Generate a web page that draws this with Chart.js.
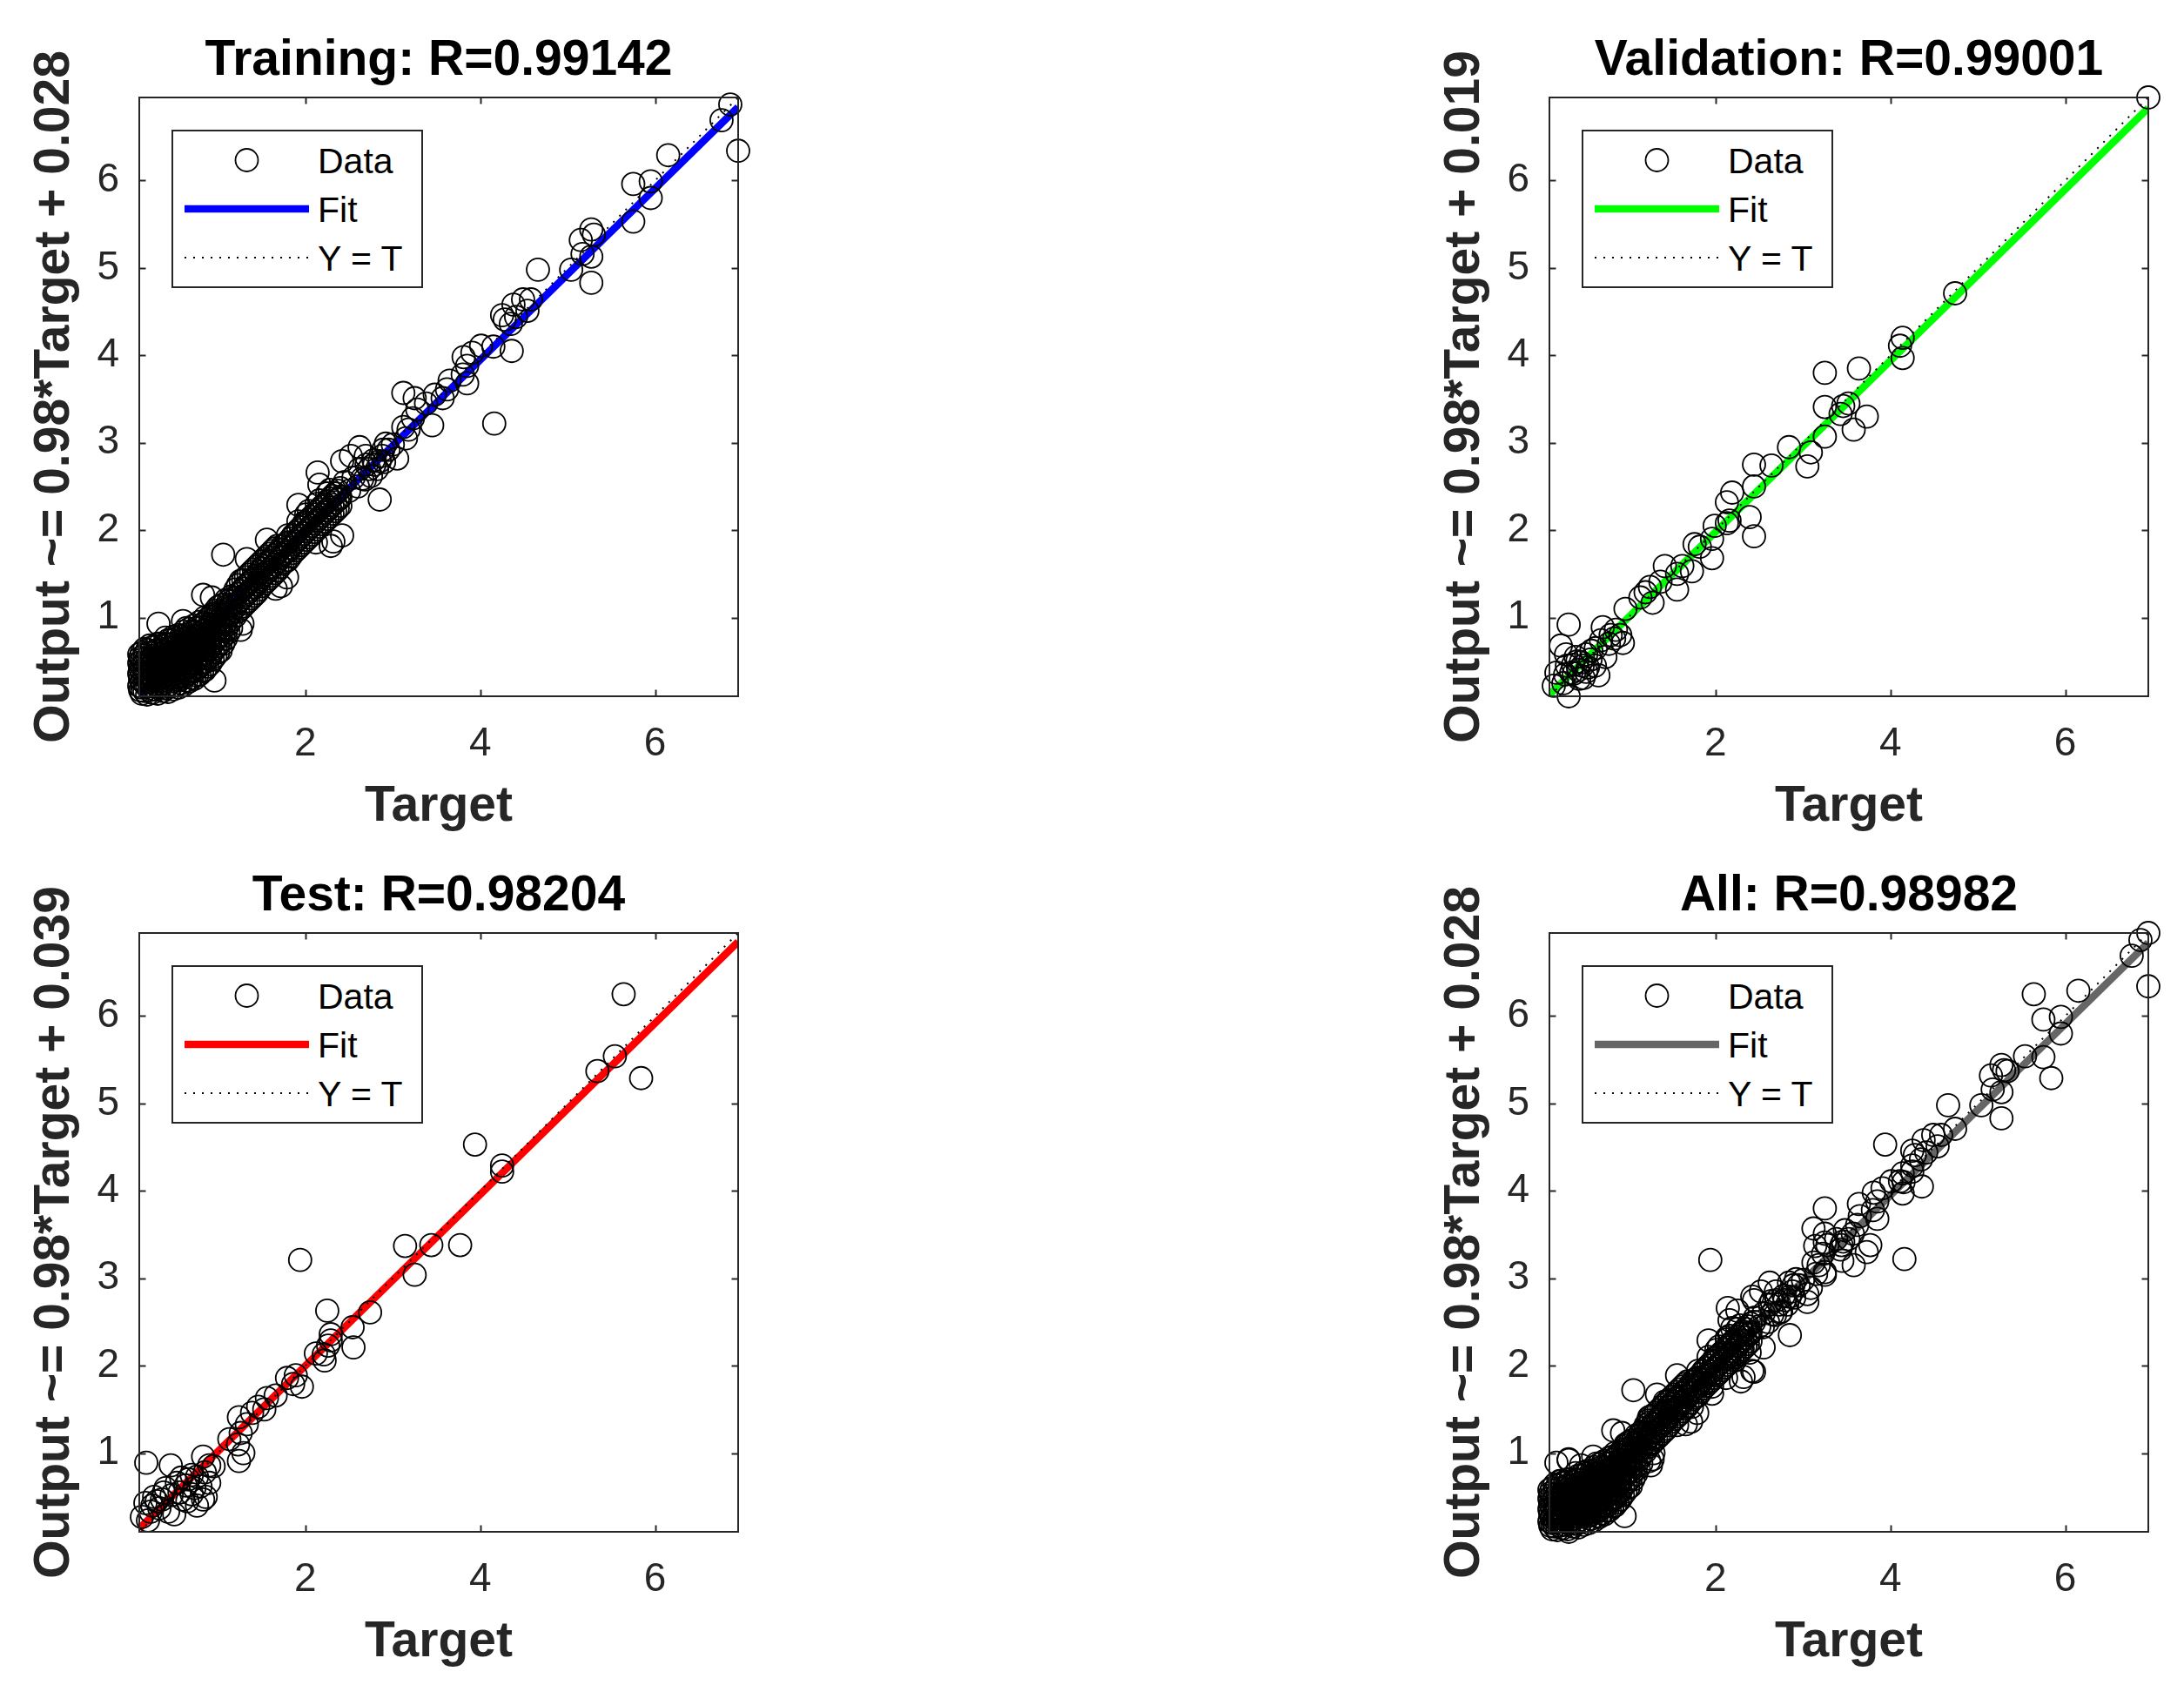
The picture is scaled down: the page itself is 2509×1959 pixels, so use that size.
<!DOCTYPE html>
<html>
<head>
<meta charset="utf-8">
<script src="https://cdn.jsdelivr.net/npm/chart.js@4.4.1/dist/chart.umd.min.js"></script>
<style>
html, body { margin: 0; padding: 0; background: #ffffff; width: 2509px; height: 1959px; overflow: hidden; position: relative; }
.panel { position: absolute; width: 1000px; height: 980px; }
.panel canvas { position: absolute; left: 0; top: 0; }
.mlegend { position: absolute; box-sizing: border-box; border: 2px solid #262626; background: #ffffff;
  font-family: 'Liberation Sans', Arial, Helvetica, sans-serif; color: #000000; }
.mlegend .sym { position: absolute; }
.mlegend .txt { position: absolute; font-size: 41px; height: 56px; line-height: 56px; white-space: nowrap; }
</style>
</head>
<body>
<script>
const FONT = "'Liberation Sans', Arial, Helvetica, sans-serif";

// ---- axis / text data ----
const axisMin = 0.1;
const axisMax = 6.95;
const xTickValues = [2, 4, 6];
const yTickValues = [1, 2, 3, 4, 5, 6];
const panelTitles = ['Training: R=0.99142', 'Validation: R=0.99001', 'Test: R=0.98204', 'All: R=0.98982'];
const fitSlopes = [0.98, 0.98, 0.98, 0.98];
const fitIntercepts = ['0.028', '0.019', '0.039', '0.028'];
const fitColors = ['#0000ff', '#00ff00', '#ff0000', '#666666'];
const legendLabels = ['Data', 'Fit', 'Y = T'];
const xAxisLabel = 'Target';

// ---- Training set (targets / outputs) ----
const trainTarget = [
 0.10,0.10,0.10,0.10,
 0.13,0.13,0.13,0.13,0.13,0.13,0.13,
 0.19,0.19,0.19,0.19,0.19,0.19,0.19,
 0.25,0.25,0.25,0.25,0.25,0.25,0.25,
 0.31,0.31,0.31,0.31,0.31,0.31,0.31,0.31,
 0.37,0.37,0.37,0.37,0.37,0.37,0.37,
 0.43,0.43,0.43,0.43,0.43,0.43,0.43,0.43,
 0.49,0.49,0.49,0.49,0.49,0.49,0.49,0.49,
 0.55,0.55,0.55,0.55,0.55,0.55,0.55,0.55,
 0.61,0.61,0.61,0.61,0.61,0.61,0.61,0.61,
 0.67,0.67,0.67,0.67,0.67,0.67,0.67,0.67,
 0.73,0.73,0.73,0.73,0.73,0.73,0.73,0.73,
 0.79,0.79,0.79,0.79,0.79,0.79,0.79,0.79,
 0.85,0.85,0.85,0.85,0.85,0.85,0.85,0.85,
 0.91,0.91,0.91,0.91,0.91,0.91,0.91,
 0.97,0.97,0.97,0.97,0.97,0.97,0.97,
 1.03,1.03,1.03,1.03,1.03,1.03,1.03,
 1.09,1.09,1.09,1.09,1.09,1.09,
 1.15,1.15,1.15,1.15,1.15,
 0.16,0.16,0.16,0.16,0.16,0.16,0.16,
 0.22,0.22,0.22,0.22,0.22,0.22,0.22,
 0.28,0.28,0.28,0.28,0.28,0.28,0.28,
 0.34,0.34,0.34,0.34,0.34,0.34,0.34,
 0.40,0.40,0.40,0.40,0.40,0.40,0.40,0.40,
 0.46,0.46,0.46,0.46,0.46,0.46,0.46,
 0.52,0.52,0.52,0.52,0.52,0.52,0.52,
 0.58,0.58,0.58,0.58,0.58,0.58,0.58,
 0.64,0.64,0.64,0.64,0.64,0.64,0.64,0.64,
 0.70,0.70,0.70,0.70,0.70,0.70,0.70,
 0.76,0.76,0.76,0.76,0.76,0.76,0.76,
 0.82,0.82,0.82,0.82,0.82,0.82,0.82,
 0.88,0.88,0.88,0.88,0.88,0.88,0.88,
 0.94,0.94,0.94,0.94,0.94,0.94,0.94,
 1.00,1.00,1.00,1.00,1.00,1.00,1.00,
 1.06,1.06,1.06,1.06,1.06,1.06,
 1.12,1.12,1.12,1.12,1.12,
 0.11,0.11,0.11,0.11,
 0.32,0.60,0.83,0.93,1.06,1.26,1.28,0.96,
 1.20,1.20,1.20,1.20, 1.26,1.26,1.26,1.26, 1.32,1.32,1.32,1.32, 1.38,1.38,1.38,1.38,
 1.44,1.44,1.44,1.44, 1.50,1.50,1.50,1.50, 1.56,1.56,1.56,1.56, 1.62,1.62,1.62,1.62,
 1.68,1.68,1.68,1.68, 1.74,1.74,1.74, 1.80,1.80,1.80,1.80, 1.86,1.86,1.86,
 1.92,1.92,1.92,1.92, 1.98,1.98,1.98, 2.04,2.04,2.04,2.04, 2.10,2.10,2.10,
 2.16,2.16,2.16,2.16, 2.22,2.22,2.22, 2.28,2.28,2.28,2.28, 2.34,2.34,2.34, 2.40,2.40,2.40,
 1.23,1.23,1.23,1.23, 1.29,1.29,1.29,1.29, 1.35,1.35,1.35,1.35, 1.41,1.41,1.41,1.41,
 1.47,1.47,1.47,1.47, 1.53,1.53,1.53,1.53, 1.59,1.59,1.59,1.59, 1.65,1.65,1.65,1.65,
 1.71,1.71,1.71, 1.77,1.77,1.77, 1.83,1.83,1.83, 1.89,1.89,1.89, 1.95,1.95,1.95,
 2.01,2.01,2.01,2.01, 2.07,2.07,2.07, 2.13,2.13,2.13,2.13, 2.19,2.19,2.19,
 2.25,2.25,2.25,2.25, 2.31,2.31,2.31, 2.37,2.37,2.37,
 1.56,1.33,1.92,2.32,2.42,2.29,1.72,1.66,1.79,2.12,1.99,2.14,2.16,
 2.45,2.50,2.55,2.60,2.62,2.68,2.70,2.75,2.78,2.82,2.88,2.90,2.95,3.00,
 2.62,2.52,2.42,2.69,2.79,2.85,2.65,2.39,2.73,
 2.92,2.89,2.85,3.05,3.15,3.12,3.18,3.23,3.28,3.45,3.38,3.25,3.12,3.48,3.57,3.62,3.65,3.85,3.80,3.85,3.81,3.91,4.01,4.15,4.16,4.36,4.35,4.41,4.28,4.25,4.38,4.49,4.54,
 4.58,4.66,5.04,5.15,5.27,5.30,5.17,5.27,5.27,5.75,5.75,5.95,5.95,6.15,6.76,6.86,6.95
];
const trainOutput = [
 0.36,0.22,0.48,0.58,
 0.13,0.20,0.28,0.36,0.44,0.52,0.60,
 0.12,0.21,0.29,0.37,0.45,0.54,0.63,
 0.14,0.22,0.31,0.39,0.47,0.56,0.66,
 0.13,0.21,0.30,0.38,0.46,0.55,0.63,0.70,
 0.16,0.24,0.33,0.41,0.50,0.58,0.67,
 0.15,0.23,0.31,0.40,0.48,0.57,0.65,0.74,
 0.18,0.27,0.35,0.44,0.52,0.61,0.70,0.78,
 0.20,0.29,0.37,0.46,0.55,0.63,0.72,0.80,
 0.23,0.32,0.41,0.49,0.58,0.66,0.75,0.84,
 0.27,0.36,0.44,0.53,0.61,0.70,0.78,0.87,
 0.30,0.39,0.48,0.57,0.65,0.74,0.83,0.91,
 0.35,0.44,0.53,0.62,0.70,0.79,0.88,0.95,
 0.40,0.49,0.58,0.67,0.76,0.85,0.94,1.00,
 0.47,0.56,0.65,0.74,0.83,0.92,1.01,
 0.56,0.65,0.74,0.83,0.92,1.02,1.08,
 0.62,0.71,0.80,0.89,0.98,1.07,1.14,
 0.76,0.85,0.94,1.03,1.12,1.20,
 0.88,0.97,1.06,1.15,1.24,
 0.16,0.25,0.33,0.41,0.49,0.57,0.64,
 0.17,0.26,0.34,0.42,0.51,0.60,0.68,
 0.18,0.27,0.35,0.43,0.51,0.60,0.67,
 0.20,0.29,0.37,0.46,0.54,0.62,0.70,
 0.19,0.28,0.36,0.45,0.53,0.62,0.70,0.77,
 0.21,0.30,0.39,0.48,0.56,0.65,0.74,
 0.23,0.32,0.40,0.49,0.58,0.67,0.76,
 0.25,0.34,0.43,0.52,0.61,0.70,0.79,
 0.28,0.37,0.45,0.54,0.63,0.71,0.80,0.88,
 0.31,0.40,0.49,0.57,0.66,0.75,0.84,
 0.34,0.43,0.52,0.61,0.70,0.79,0.88,
 0.39,0.48,0.57,0.66,0.75,0.84,0.92,
 0.44,0.53,0.62,0.71,0.80,0.89,0.98,
 0.52,0.61,0.70,0.79,0.88,0.97,1.04,
 0.60,0.68,0.77,0.86,0.95,1.04,1.12,
 0.70,0.79,0.88,0.97,1.06,1.15,
 0.83,0.92,1.01,1.10,1.19,
 0.17,0.30,0.42,0.54,
 0.93,0.96,1.26,1.23,1.72,0.86,0.93,0.28,
 1.02,1.12,1.22,1.32, 1.10,1.20,1.30,1.42, 1.16,1.26,1.36,1.46, 1.22,1.32,1.42,1.52,
 1.28,1.38,1.48,1.58, 1.36,1.46,1.56,1.64, 1.42,1.52,1.62,1.70, 1.48,1.58,1.68,1.76,
 1.54,1.64,1.74,1.82, 1.62,1.72,1.82, 1.66,1.76,1.86,1.94, 1.74,1.84,1.94,
 1.80,1.90,2.00,2.10, 1.86,1.96,2.06, 1.92,2.02,2.12,2.22, 1.98,2.08,2.18,
 2.04,2.14,2.24,2.34, 2.10,2.20,2.30, 2.16,2.26,2.36,2.46, 2.22,2.32,2.42, 2.28,2.38,2.48,
 1.07,1.17,1.27,1.37, 1.13,1.23,1.33,1.43, 1.19,1.29,1.39,1.49, 1.25,1.35,1.45,1.55,
 1.32,1.42,1.52,1.61, 1.39,1.49,1.59,1.67, 1.45,1.55,1.65,1.73, 1.51,1.61,1.71,1.79,
 1.58,1.68,1.78, 1.64,1.74,1.84, 1.70,1.80,1.90, 1.77,1.87,1.97, 1.83,1.93,2.03,
 1.89,1.99,2.09,2.18, 1.95,2.05,2.15, 2.01,2.11,2.21,2.30, 2.07,2.17,2.27,
 2.13,2.23,2.33,2.42, 2.19,2.29,2.39, 2.25,2.35,2.45,
 1.89,1.67,2.29,1.87,1.94,1.82,1.36,1.33,1.46,1.86,2.09,2.66,2.52,
 2.55,2.45,2.60,2.50,2.70,2.58,2.75,2.62,2.80,2.70,2.85,2.78,2.92,2.98,
 2.95,2.85,2.79,2.85,2.75,2.35,2.59,2.36,2.70,
 2.99,2.92,2.79,2.82,3.05,3.18,3.15,3.28,3.38,3.20,3.45,3.51,3.57,3.55,3.51,3.61,3.71,3.68,3.78,3.88,3.98,4.03,4.11,4.10,3.22,4.05,4.36,4.44,4.41,4.46,4.58,4.64,4.51,
 4.64,4.98,4.98,5.32,5.44,5.38,5.16,5.13,4.83,5.53,5.96,5.99,5.80,6.29,6.69,6.87,6.34
];

// ---- Validation set ----
const valTarget = [
 6.95,4.74,4.14,4.11,4.14,3.25,3.64,3.25,3.46,3.52,3.43,3.73,3.58,3.25,2.84,3.09,3.05,2.64,2.44,2.44,
 2.19,2.13,2.39,2.44,2.13,2.16,1.99,1.96,1.76,1.82,1.96,1.73,1.56,1.62,1.42,1.56,1.37,1.25,1.20,1.28,
 1.14,0.97,0.91,0.94,0.86,0.71,0.69,0.63,0.66,0.32,0.23,0.29,0.46,0.40,0.52,0.18,0.15,0.32,0.26,0.35,
 0.43,0.37,0.54,0.49,0.57,0.74,
 0.30,0.42,0.48,0.38,0.58,0.62,0.28,0.44,0.52,0.80,0.78,0.84
];
const valOutput = [
 6.95,4.71,4.20,4.11,3.97,3.80,3.85,3.41,3.42,3.45,3.33,3.30,3.15,3.07,2.95,2.89,2.73,2.74,2.75,2.50,
 2.43,2.32,2.15,1.93,2.08,2.11,2.05,1.90,1.84,1.81,1.68,1.53,1.50,1.59,1.59,1.32,1.41,1.35,1.29,1.17,
 1.23,1.10,0.80,0.71,0.86,0.89,0.74,0.65,0.34,0.92,0.68,0.58,0.49,0.55,0.58,0.37,0.22,0.10,0.25,0.37,
 0.40,0.46,0.43,0.31,0.52,0.55,
 0.45,0.50,0.45,0.36,0.62,0.45,0.35,0.30,0.38,0.80,0.70,0.76
];

// ---- Test set ----
const testTarget = [
 0.18,1.94,3.14,3.44,3.25,3.77,2.25,2.74,2.54,2.29,2.55,2.26,2.21,2.12,2.29,2.22,1.89,1.96,1.86,1.79,
 1.66,1.56,1.53,1.46,1.39,1.24,1.33,1.26,1.13,1.23,1.24,1.29,0.83,0.90,0.76,0.66,0.90,0.76,0.83,0.46,
 0.53,0.40,0.27,0.17,0.20,0.33,0.50,0.60,0.70,0.36,0.13,0.43,0.63,0.73,0.86,
 0.23,0.30,0.38,0.56,0.65,0.80,0.70,0.47,0.25,0.58,0.85,0.95,
 5.64,5.54,5.34,5.84,3.94,4.25,4.25
];
const testOutput = [
 0.89,3.21,3.37,3.38,3.04,3.38,2.63,2.61,2.44,2.36,2.21,2.23,2.13,2.14,2.29,2.06,1.89,1.76,1.79,1.86,
 1.66,1.63,1.50,1.53,1.46,1.41,1.33,1.23,1.16,1.10,0.91,1.00,0.96,0.86,0.73,0.70,0.66,0.40,0.47,0.86,
 0.66,0.60,0.50,0.43,0.23,0.37,0.30,0.47,0.53,0.47,0.27,0.33,0.63,0.60,0.50,
 0.33,0.45,0.55,0.55,0.45,0.62,0.75,0.52,0.40,0.72,0.78,0.85,
 6.25,5.54,5.37,5.29,4.53,4.29,4.22
];

// All = union of the three subsets
const allTarget = trainTarget.concat(valTarget, testTarget);
const allOutput = trainOutput.concat(valOutput, testOutput);

const panelTargets = [trainTarget, valTarget, testTarget, allTarget];
const panelOutputs = [trainOutput, valOutput, testOutput, allOutput];
const panelPositions = [[0, 0], [1620, 0], [0, 960], [1620, 960]];

Chart.defaults.font.family = FONT;

const matlabAxes = {
  id: 'matlabAxes',
  afterDatasetsDraw(chart) {
    const ctx = chart.ctx, a = chart.chartArea, xs = chart.scales.x, ys = chart.scales.y;
    const L = 7.5;
    ctx.save();
    ctx.strokeStyle = '#262626';
    ctx.lineWidth = 2;
    ctx.beginPath();
    xs.ticks.forEach(t => {
      const p = Math.round(xs.getPixelForValue(t.value)) + 0.5;
      ctx.moveTo(p, a.bottom); ctx.lineTo(p, a.bottom - L);
      ctx.moveTo(p, a.top); ctx.lineTo(p, a.top + L);
    });
    ys.ticks.forEach(t => {
      const p = Math.round(ys.getPixelForValue(t.value)) + 0.5;
      ctx.moveTo(a.left, p); ctx.lineTo(a.left + L, p);
      ctx.moveTo(a.right, p); ctx.lineTo(a.right - L, p);
    });
    ctx.stroke();
    ctx.strokeRect(a.left, a.top, a.right - a.left, a.bottom - a.top);
    ctx.restore();
  }
};

function buildLegend(chart, panel) {
  const a = chart.chartArea;
  const box = document.createElement('div');
  box.className = 'mlegend';
  box.style.left = (a.left + 37) + 'px';
  box.style.top = (a.top + 37) + 'px';
  box.style.width = '289px';
  box.style.height = '182px';
  legendLabels.forEach((lab, i) => {
    const ds = chart.data.datasets.find(d => d.label === lab);
    const symCenter = 33 + i * 56;
    const txtCenter = 34 + i * 56;
    const sym = document.createElementNS('http://www.w3.org/2000/svg', 'svg');
    sym.setAttribute('class', 'sym');
    sym.setAttribute('width', '143');
    sym.setAttribute('height', '40');
    sym.style.left = '13px';
    sym.style.top = (symCenter - 20) + 'px';
    let inner;
    if (ds.showLine === false) {
      inner = '<circle cx="71.5" cy="20" r="' + ds.pointRadius + '" fill="none" stroke="' + ds.borderColor +
              '" stroke-width="' + ds.pointBorderWidth + '"/>';
    } else if (ds.borderDash && ds.borderDash.length) {
      inner = '<line x1="0" y1="20" x2="143" y2="20" stroke="' + ds.borderColor + '" stroke-width="' + ds.borderWidth +
              '" stroke-dasharray="' + ds.borderDash.join(' ') + '"/>';
    } else {
      inner = '<line x1="0" y1="20" x2="143" y2="20" stroke="' + ds.borderColor + '" stroke-width="' + ds.borderWidth + '"/>';
    }
    sym.innerHTML = inner;
    box.appendChild(sym);
    const txt = document.createElement('div');
    txt.className = 'txt';
    txt.textContent = ds.label;
    txt.style.left = '166px';
    txt.style.top = (txtCenter - 28) + 'px';
    box.appendChild(txt);
  });
  panel.appendChild(box);
}

function makePanel(i) {
  const panel = document.createElement('div');
  panel.className = 'panel';
  panel.style.left = panelPositions[i][0] + 'px';
  panel.style.top = panelPositions[i][1] + 'px';
  const canvas = document.createElement('canvas');
  canvas.width = 1000; canvas.height = 980;
  canvas.style.width = '1000px'; canvas.style.height = '980px';
  panel.appendChild(canvas);
  document.body.appendChild(panel);

  const T = panelTargets[i], Y = panelOutputs[i];
  const pts = T.map((t, k) => ({ x: t, y: Y[k] }));
  const m = fitSlopes[i], b = parseFloat(fitIntercepts[i]);
  const yLabel = 'Output ~= ' + m + '*Target + ' + fitIntercepts[i];

  const chart = new Chart(canvas.getContext('2d'), {
    type: 'scatter',
    data: {
      datasets: [
        { label: legendLabels[0], data: pts, showLine: false, pointStyle: 'circle',
          pointRadius: 13, pointHoverRadius: 13, pointBorderWidth: 1.8, borderWidth: 1.8,
          borderColor: '#000000', pointBorderColor: '#000000', backgroundColor: 'rgba(0,0,0,0)',
          pointBackgroundColor: 'rgba(0,0,0,0)', clip: false, order: 0 },
        { label: legendLabels[2], data: [{ x: axisMin, y: axisMin }, { x: axisMax, y: axisMax }],
          showLine: true, borderColor: '#000000', borderWidth: 2, borderDash: [2, 8],
          pointRadius: 0, pointHoverRadius: 0, order: 1 },
        { label: legendLabels[1], data: [{ x: axisMin, y: m * axisMin + b }, { x: axisMax, y: m * axisMax + b }],
          showLine: true, borderColor: fitColors[i], borderWidth: 8.5, borderCapStyle: 'butt',
          pointRadius: 0, pointHoverRadius: 0, order: 2 }
      ]
    },
    options: {
      responsive: false,
      animation: false,
      events: [],
      layout: { padding: { left: 0, right: 152, top: 0, bottom: 0 } },
      plugins: {
        legend: { display: false },
        tooltip: { enabled: false },
        title: { display: true, fullSize: false, text: panelTitles[i], color: '#000000',
                 font: { family: FONT, size: 57, weight: 'bold', lineHeight: 1.2 },
                 padding: { top: 35.8, bottom: 7.8 } }
      },
      scales: {
        x: {
          type: 'linear', position: 'bottom', min: axisMin, max: axisMax,
          afterBuildTicks: s => { s.ticks = xTickValues.map(v => ({ value: v })); },
          afterFit: s => { s.height = 180; },
          grid: { display: false, drawTicks: false }, border: { display: false },
          ticks: { autoSkip: false, maxRotation: 0, minRotation: 0, padding: 28, color: '#262626',
                   font: { family: FONT, size: 46 } },
          title: { display: true, text: xAxisLabel, color: '#262626',
                   font: { family: FONT, size: 57, weight: 'bold', lineHeight: 1.2 },
                   padding: { top: 0, bottom: 18.8 } }
        },
        y: {
          type: 'linear', position: 'left', min: axisMin, max: axisMax,
          afterBuildTicks: s => { s.ticks = yTickValues.map(v => ({ value: v })); },
          afterFit: s => { s.width = 160; },
          grid: { display: false, drawTicks: false }, border: { display: false },
          ticks: { autoSkip: false, padding: 23, color: '#262626',
                   font: { family: FONT, size: 46 } },
          title: { display: true, text: yLabel, color: '#262626',
                   font: { family: FONT, size: 57, weight: 'bold', lineHeight: 1.2 },
                   padding: { top: 29, bottom: 0 } }
        }
      }
    },
    plugins: [matlabAxes]
  });
  buildLegend(chart, panel);
}

for (let i = 0; i < 4; i++) makePanel(i);
</script>
</body>
</html>
